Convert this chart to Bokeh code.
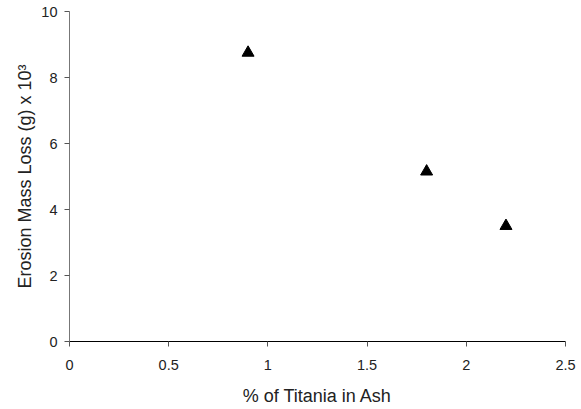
from bokeh.plotting import figure
from bokeh.models import Range1d, FixedTicker
from bokeh.embed import file_html
from bokeh.resources import INLINE

titania_pct = [0.9, 1.8, 2.2]
mass_loss = [8.75, 5.15, 3.5]
x_ticks = [0, 0.5, 1, 1.5, 2, 2.5]
y_ticks = [0, 2, 4, 6, 8, 10]

p = figure(width=581, height=409, output_backend="svg", toolbar_location=None,
           x_range=Range1d(0, 2.5), y_range=Range1d(0, 10),
           min_border_left=69, min_border_right=16, min_border_top=11, min_border_bottom=68)
p.outline_line_color = None
p.xgrid.visible = False
p.ygrid.visible = False
p.background_fill_color = "white"
p.border_fill_color = "white"

p.scatter(titania_pct, mass_loss, marker="triangle", size=12, color="black")

font = "Liberation Sans"
p.xaxis.ticker = FixedTicker(ticks=x_ticks)
p.yaxis.ticker = FixedTicker(ticks=y_ticks)
p.xaxis.minor_tick_line_color = None
p.yaxis.minor_tick_line_color = None
for ax in (p.xaxis, p.yaxis):
    ax.major_label_text_font = font
    ax.major_label_text_font_size = "14.5px"
    ax.major_label_text_color = "#222222"
    ax.axis_label_text_font = font
    ax.axis_label_text_font_size = "18px"
    ax.axis_label_text_font_style = "normal"
    ax.axis_label_text_color = "#222222"
    ax.major_tick_out = 5
    ax.major_tick_in = 0
p.xaxis.axis_line_color = "black"
p.xaxis.major_tick_line_color = "#555555"
p.yaxis.axis_line_color = "#777777"
p.yaxis.major_tick_line_color = "#555555"
p.xaxis.axis_label = "% of Titania in Ash"
p.yaxis.axis_label = "Erosion Mass Loss (g) x 10³"
p.xaxis.major_label_standoff = 13
p.yaxis.major_label_standoff = 7
p.xaxis.axis_label_standoff = 13
p.yaxis.axis_label_standoff = 3

open("out.html", "w").write(file_html(p, INLINE))
